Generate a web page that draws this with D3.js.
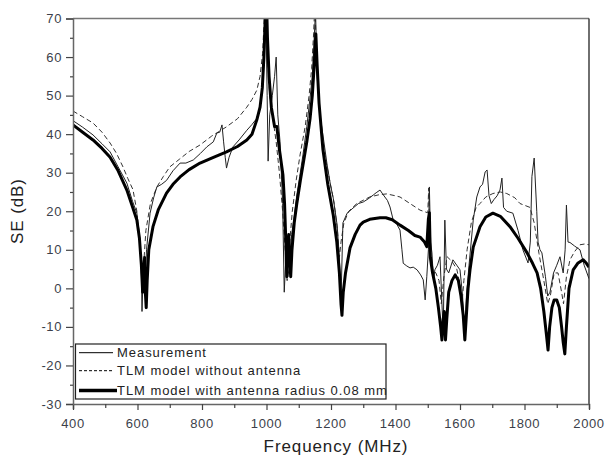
<!DOCTYPE html>
<html><head><meta charset="utf-8">
<script src="https://cdn.jsdelivr.net/npm/d3@7"></script>
<style>
html,body{margin:0;padding:0;background:#fff;}
text{font-family:"Liberation Sans",Arial,sans-serif;}
</style></head>
<body><svg id="c" width="605" height="457"></svg>
<script>
const xTicks = [400,600,800,1000,1200,1400,1600,1800,2000];
const yTicks = [-30,-20,-10,0,10,20,30,40,50,60,70];
const legendLabels = ["Measurement","TLM model without antenna","TLM model with antenna radius 0.08 mm"];

const measurement = [[400,43.5],[430,41.8],[462,39.8],[490,37.5],[515,35.4],[540,31.5],[567,27.3],[585,22.5],[598,19.5],[606,14],[612,5],[614,-6],[617,2],[622,-2],[628,10],[639,19.5],[650,23.5],[660,26.3],[675,27],[690,28],[710,30.5],[732,32.5],[750,32.5],[773,33.3],[795,35],[815,36.7],[835,38],[846,40.3],[855,40.5],[862,42.4],[867,38],[872,34],[876,31.2],[884,34],[896,36.7],[915,38.5],[939,41],[955,42.5],[970,44.1],[980,47],[988,52],[994,62],[998,72],[1002,50],[1005,33],[1010,45],[1018,50],[1025,55],[1030,60],[1035,45],[1042,38],[1050,22],[1055,-1],[1060,8],[1066,3],[1072,6],[1078,14],[1085,18],[1094,24.2],[1103,29],[1113,34.6],[1125,42],[1135,49.4],[1142,55],[1148,65],[1152,72],[1157,55],[1166,45],[1178,38],[1188,32],[1198,27],[1207,23.4],[1219,16.4],[1226,8],[1231,-3],[1237,17],[1250,19.5],[1268,20.8],[1285,22],[1300,22.4],[1315,23.2],[1331,24.2],[1340,24.8],[1352,25.5],[1360,24.5],[1367,23.7],[1375,22.8],[1383,21.1],[1393,17.7],[1405,16.5],[1414,15.1],[1420,10],[1424,6.5],[1435,5.8],[1445,5.3],[1455,5.5],[1467,4.8],[1478,3.5],[1486,2.2],[1492,-3],[1497,3],[1502,10],[1505,26.3],[1509,12],[1513,9.2],[1518,2],[1522,4.8],[1530,6],[1538,8.2],[1544,-4],[1548,-11.6],[1553,17.7],[1558,5],[1565,4],[1578,7.4],[1590,6],[1600,4.8],[1608,-2],[1612,-8],[1616,-10.8],[1620,-2],[1628,6],[1641,17.7],[1652,23.7],[1662,26.3],[1670,27],[1678,30.2],[1684,30.7],[1690,24],[1697,22],[1705,23],[1715,24],[1724,25.5],[1730,28.6],[1735,21],[1745,20],[1764,19.5],[1780,15],[1795,10],[1811,6.6],[1818,12],[1823,29],[1830,33.8],[1838,20],[1842,12],[1848,10],[1854,9.2],[1865,3],[1872,-2],[1879,-1],[1890,4],[1900,6],[1910,8.2],[1920,4],[1926,10],[1930,21.6],[1935,12],[1941,11.9],[1955,11],[1972,10],[1985,6],[2000,2.5]];

const tlmNoAntenna = [[400,46],[430,44.5],[462,42.9],[490,40.5],[515,37.7],[535,35],[555,31.5],[570,28.5],[586,25.6],[598,20],[607,12],[612,4],[615,-1],[619,6],[626,15],[640,22],[660,26.3],[680,29],[700,31.5],[730,33.5],[760,35.5],[794,37.2],[830,39.5],[876,41.9],[910,44],[939,47],[955,49],[970,51.4],[980,55],[988,61],[993,70],[997,76],[1002,62],[1010,50],[1020,44],[1030,38],[1040,30],[1050,20],[1058,10],[1064,2],[1070,10],[1080,20],[1092,28],[1104,34.6],[1120,42],[1132,50],[1140,57],[1146,66],[1150,74],[1155,60],[1165,45],[1180,35],[1197,27.5],[1210,22],[1220,15],[1226,8],[1231,12],[1240,17],[1255,20],[1280,22],[1320,23.7],[1350,24.3],[1373,24.5],[1400,24],[1414,23.7],[1445,22],[1476,20.3],[1500,19.6],[1503,26],[1507,10],[1515,5],[1525,4],[1535,2],[1542,-4],[1550,3],[1560,8.2],[1575,7],[1590,5],[1600,1],[1606,-4],[1612,2],[1622,10],[1635,17],[1650,21],[1662,22],[1680,23.7],[1702,24.6],[1725,25],[1745,24.6],[1770,23.5],[1786,22],[1817,21],[1830,17],[1845,9],[1860,2],[1872,-4],[1880,-2],[1892,4],[1904,4],[1915,-1],[1921,-4],[1930,3],[1941,7.4],[1955,9.5],[1972,11.3],[1986,11.5],[2000,11.3]];

const tlmAntenna = [[400,42.4],[430,40.5],[462,38.5],[490,36.3],[515,34],[540,30.5],[567,25.5],[585,21],[598,17.7],[606,13],[612,6],[616,-1],[619,4],[622,8],[625,-2],[627,-5],[630,2],[635,10],[648,16],[665,20.5],[690,24.7],[710,27],[732,28.9],[760,30.8],[794,32.5],[830,33.8],[876,35.4],[910,36.8],[939,38.5],[955,40],[970,43.7],[980,47],[987,52],[992,60],[996,70],[999,78],[1003,65],[1008,55],[1015,47],[1025,42],[1032,42],[1040,36],[1051,29.4],[1056,22],[1060,12],[1063,3],[1066,10],[1069,14],[1072,8],[1075,3],[1079,10],[1086,17],[1094,22],[1105,28],[1115,33],[1125,38],[1135,44],[1142,50],[1148,58],[1153,66],[1157,58],[1163,48],[1175,36],[1190,27],[1207,19],[1218,12],[1226,4],[1231,-4],[1234,-7],[1238,-1],[1245,4],[1259,10.5],[1275,14],[1290,16.4],[1300,17.2],[1320,17.9],[1352,18.3],[1370,18.3],[1390,17.8],[1414,16.4],[1440,15],[1460,13.7],[1476,13.3],[1490,12],[1497,10.8],[1502,18],[1505,19.6],[1508,8],[1515,4],[1525,0],[1533,-5],[1540,-10],[1544,-13.4],[1548,-8],[1551,-6],[1555,-13.4],[1559,-8],[1565,-1],[1575,2],[1585,3.5],[1595,2],[1603,-2],[1610,-7],[1615,-13.4],[1619,-8],[1625,0],[1631,4.8],[1641,10.7],[1662,16],[1680,18.5],[1702,19.5],[1725,18.7],[1755,16],[1780,13],[1808,9.2],[1825,6.5],[1839,4],[1850,0],[1860,-6],[1868,-12],[1873,-16],[1878,-10],[1885,-5],[1892,-3],[1900,-3],[1908,-5],[1915,-10],[1920,-14],[1925,-17],[1930,-10],[1938,0],[1951,4.8],[1965,6.5],[1982,7.4],[1992,6.5],[2000,5.5]];

const L = 73, R = 589, T = 18.5, B = 404;
const svg = d3.select("#c");
const x = d3.scaleLinear().domain([400,2000]).range([L,R]);
const y = d3.scaleLinear().domain([-30,70]).range([B,T]);
const labelColor = "#3c3f4a";

svg.append("defs").append("clipPath").attr("id","clip")
  .append("rect").attr("x",L).attr("y",T).attr("width",R-L).attr("height",B-T);

const line = d3.line().x(d=>x(d[0])).y(d=>y(d[1]));
const g = svg.append("g").attr("clip-path","url(#clip)");
g.append("path").datum(tlmNoAntenna).attr("d",line).attr("fill","none")
  .attr("stroke","#333").attr("stroke-width",1).attr("stroke-dasharray","5,3");
g.append("path").datum(measurement).attr("d",line).attr("fill","none")
  .attr("stroke","#222").attr("stroke-width",1);
g.append("path").datum(tlmAntenna).attr("d",line).attr("fill","none")
  .attr("stroke","#000").attr("stroke-width",3).attr("stroke-linejoin","round");

// frame top/right
svg.append("line").attr("x1",L).attr("x2",R).attr("y1",T).attr("y2",T).attr("stroke","#777").attr("stroke-width",1.3);
svg.append("line").attr("x1",R).attr("x2",R).attr("y1",T).attr("y2",B).attr("stroke","#222").attr("stroke-width",1.3);

// axes
const xAxis = d3.axisBottom(x).tickValues(d3.range(400,2001,100)).tickSize(5).tickFormat(()=>"");
const gx = svg.append("g").attr("transform",`translate(0,${B})`).call(xAxis);
gx.selectAll(".tick line").attr("y2",d=> d%200===0?6:4);
gx.select(".domain").attr("stroke","#666").attr("stroke-width",1.5);
gx.selectAll(".tick line").attr("stroke","#444").attr("stroke-width",1.2);
svg.append("g").selectAll("text").data(xTicks).join("text")
  .attr("x",d=>x(d)).attr("y",B+24).attr("text-anchor","middle")
  .attr("font-size",13).attr("letter-spacing",0.6).attr("fill",labelColor).text(d=>d);

const yAxis = d3.axisLeft(y).tickValues(d3.range(-30,71,5)).tickSize(7).tickFormat(()=>"");
const gy = svg.append("g").attr("transform",`translate(${L},0)`).call(yAxis);
gy.selectAll(".tick line").attr("x2",d=> d%10===0?-7:-3).attr("stroke","#444").attr("stroke-width",1.2);
gy.select(".domain").attr("stroke","#666").attr("stroke-width",1.5);
svg.append("g").selectAll("text").data(yTicks).join("text")
  .attr("x",L-11).attr("y",d=>y(d)+4.5).attr("text-anchor","end")
  .attr("font-size",13).attr("letter-spacing",0.6).attr("fill",labelColor).text(d=>d);

// axis titles
svg.append("text").attr("x",336).attr("y",452).attr("text-anchor","middle")
  .attr("font-size",17).attr("letter-spacing",0.9).attr("fill","#222").text("Frequency (MHz)");
svg.append("text").attr("transform","translate(23,211) rotate(-90)").attr("text-anchor","middle")
  .attr("font-size",17).attr("letter-spacing",0.9).attr("fill","#222").text("SE (dB)");

// legend
const lg = svg.append("g");
const rowsY = [352.7,370.7,390.5];
const styles = [{w:1,dash:null},{w:1,dash:"3,2"},{w:3.5,dash:null}];
lg.append("rect").attr("x",75.5).attr("y",344).attr("width",310.5).attr("height",55)
  .attr("fill","#fff").attr("stroke","#222").attr("stroke-width",1.2);
legendLabels.forEach((t,i)=>{
  lg.append("line").attr("x1",79).attr("x2",i===2?117:113).attr("y1",rowsY[i]).attr("y2",rowsY[i])
    .attr("stroke","#000").attr("stroke-width",styles[i].w).attr("stroke-dasharray",styles[i].dash);
  lg.append("text").attr("x",i===2?117:117).attr("y",rowsY[i]+4.6).attr("font-size",13)
    .attr("letter-spacing",0.95).attr("fill","#222").text(t);
});
</script></body></html>
